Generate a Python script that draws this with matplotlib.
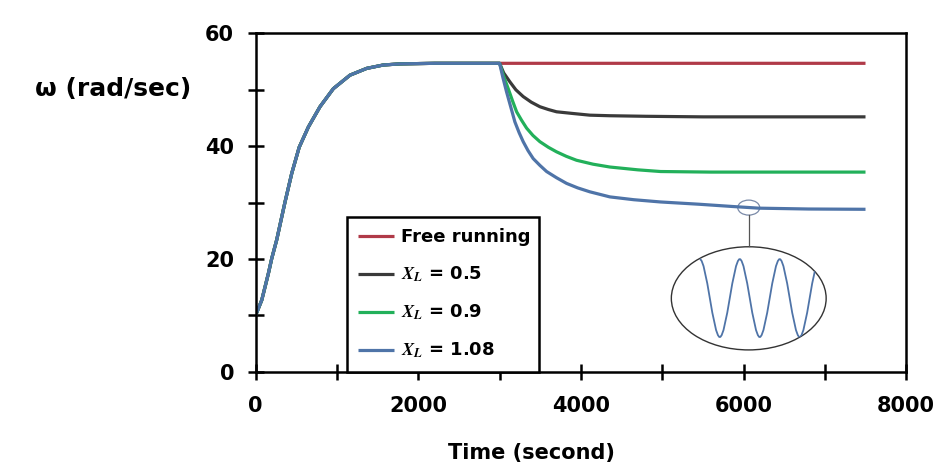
import numpy as np
import matplotlib
matplotlib.use("Agg")
import matplotlib.pyplot as plt
from matplotlib.patches import Ellipse, PathPatch
from matplotlib.path import Path
from matplotlib.ticker import MultipleLocator

plt.rcParams['font.family'] = ['DejaVu Sans']
plt.rcParams['font.weight'] = 'bold'
plt.rcParams['mathtext.fontset'] = 'stix'

# start-up (shared by all cases)
t_rise = [0, 75, 156, 198, 259, 361, 444, 535, 648, 791, 955, 1160, 1365, 1569, 1775, 2200, 3000]
w_rise = [10.0, 12.7, 17.4, 20.1, 23.4, 30.1, 35.2, 39.8, 43.4, 47.0, 50.2, 52.6, 53.8, 54.4, 54.6, 54.7, 54.7]

# after load is applied at t = 3000 s
t_free = [3000, 7500]
w_free = [54.7, 54.7]

t_05 = [3000, 3050, 3127, 3200, 3290, 3390, 3495, 3600, 3700, 3900, 4110, 4356, 4800, 5500, 7500]
w_05 = [54.7, 53.0, 51.4, 50.0, 48.8, 47.8, 47.0, 46.5, 46.1, 45.8, 45.5, 45.4, 45.3, 45.2, 45.2]

t_09 = [3000, 3050, 3106, 3160, 3209, 3270, 3332, 3410, 3495, 3600, 3700, 3820, 3946, 4150, 4356,
        4700, 4980, 5600, 7500]
w_09 = [54.7, 52.4, 50.2, 48.0, 46.1, 44.6, 43.2, 41.9, 40.8, 39.8, 39.0, 38.2, 37.5, 36.8, 36.3,
        35.8, 35.5, 35.4, 35.4]

t_108 = [3000, 3040, 3086, 3140, 3188, 3240, 3290, 3350, 3413, 3495, 3578, 3700, 3823, 3960, 4110,
         4356, 4650, 4980, 5450, 5860, 6190, 6800, 7500]
w_108 = [54.7, 52.2, 49.6, 46.8, 44.3, 42.4, 40.8, 39.2, 37.8, 36.6, 35.5, 34.4, 33.4, 32.6, 31.9,
         31.0, 30.5, 30.1, 29.7, 29.3, 29.0, 28.85, 28.8]

labels = ["Free running", r"$X_L$ = 0.5", r"$X_L$ = 0.9", r"$X_L$ = 1.08"]
colors = ["#b03a48", "#3a3a3a", "#22b05a", "#4f74a8"]

fig = plt.figure(figsize=(9.4, 4.71), dpi=100)
ax = fig.add_axes([0.272, 0.211, 0.692, 0.718])

series = [(t_free, w_free), (t_05, w_05), (t_09, w_09), (t_108, w_108)]
for (t, w), lab, c in zip(series, labels, colors):
    ax.plot(t_rise + t[1:], w_rise + w[1:], color=c, lw=2.3, label=lab,
            solid_capstyle='butt', solid_joinstyle='round')

ax.set_xlim(0, 8000)
ax.set_ylim(0, 60)
ax.xaxis.set_major_locator(MultipleLocator(2000))
ax.xaxis.set_minor_locator(MultipleLocator(1000))
ax.yaxis.set_major_locator(MultipleLocator(20))
ax.yaxis.set_minor_locator(MultipleLocator(10))
ax.tick_params(which='both', direction='inout', length=11, width=1.8, color='black')
ax.tick_params(axis='x', which='major', labelsize=15, pad=12)
ax.tick_params(axis='y', which='major', labelsize=15, pad=10)
for s in ax.spines.values():
    s.set_linewidth(1.8)

fig.text(0.12, 0.81, "ω (rad/sec)", fontsize=18, fontweight='bold', ha='center', va='center')
fig.text(0.565, 0.038, "Time (second)", fontsize=15, fontweight='bold', ha='center', va='center')

leg = ax.legend(loc='lower left', bbox_to_anchor=(0.14, 0.0, 0.296, 0.457), mode='expand',
                borderaxespad=0, fancybox=False, framealpha=1, edgecolor='black',
                fontsize=13, handlelength=2.0, handletextpad=0.4, labelspacing=1.03,
                borderpad=0.62)
leg.get_frame().set_linewidth(1.8)

# zoomed oscillation sketch
tc, vc, a, b = 6064, 13.0, 952, 9.15
ax.add_patch(Ellipse((6064, 29.1), 270, 2.66, fill=False, ec='#7a8aa8', lw=0.9))
ax.plot([6064, 6064], [27.8, 22.2], color='#555555', lw=0.9)
ell = Ellipse((tc, vc), 2 * a, 2 * b, fill=False, ec='#333333', lw=1.0)
ax.add_patch(ell)
ext_x = [-0.632, -0.374, -0.116, 0.142, 0.40, 0.658, 0.916]
ext_y = [0.76, -0.75, 0.76, -0.75, 0.76, -0.75, 0.76]
verts = [(tc + ext_x[0] * a, vc + ext_y[0] * b)]
codes = [Path.MOVETO]
for i in range(1, len(ext_x)):
    x0, y0 = verts[-1]
    x1, y1 = tc + ext_x[i] * a, vc + ext_y[i] * b
    d = 0.33 * (x1 - x0)
    verts += [(x0 + d, y0), (x1 - d, y1), (x1, y1)]
    codes += [Path.CURVE4] * 3
wave = PathPatch(Path(verts, codes), fill=False, ec='#4f74a8', lw=1.3)
ax.add_patch(wave)
wave.set_clip_path(ell)

fig.savefig("out.png", dpi=100, facecolor='white')
